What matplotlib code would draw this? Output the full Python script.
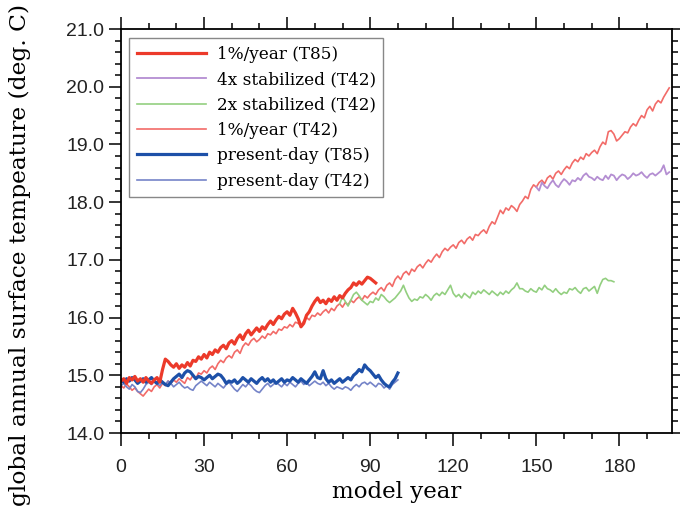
import numpy as np
import matplotlib
matplotlib.use('Agg')
import matplotlib.pyplot as plt
from matplotlib.ticker import MultipleLocator

# global annual surface temperature, one value per model year
t42_1pct_years = np.arange(0, 199)
t42_1pct = [
    14.82, 14.78, 14.85, 14.80, 14.74, 14.78, 14.72, 14.68, 14.64, 14.70,
    14.76, 14.72, 14.80, 14.84, 14.78, 14.86, 14.82, 14.90, 14.86, 14.92,
    14.88, 14.94, 14.90, 14.86, 14.96, 14.92, 15.00, 14.94, 15.04, 15.02,
    15.08, 15.04, 15.12, 15.16, 15.10, 15.20, 15.26, 15.22, 15.30, 15.34,
    15.30, 15.40, 15.44, 15.38, 15.50, 15.56, 15.52, 15.60, 15.64, 15.58,
    15.62, 15.68, 15.64, 15.72, 15.70, 15.76, 15.72, 15.80, 15.78, 15.84,
    15.82, 15.88, 15.84, 15.92, 15.90, 15.86, 15.94, 16.00, 15.96, 16.04,
    16.02, 16.08, 16.04, 16.10, 16.14, 16.08, 16.16, 16.12, 16.20, 16.24,
    16.18, 16.26, 16.22, 16.30, 16.26, 16.32, 16.36, 16.30, 16.38, 16.34,
    16.40, 16.44, 16.40, 16.48, 16.52, 16.46, 16.56, 16.60, 16.54, 16.66,
    16.72, 16.66, 16.76, 16.80, 16.74, 16.84, 16.80, 16.88, 16.92, 16.86,
    16.94, 17.00, 16.96, 17.04, 17.10, 17.04, 17.14, 17.20, 17.16, 17.22,
    17.26, 17.20, 17.30, 17.34, 17.28, 17.36, 17.40, 17.34, 17.44, 17.42,
    17.48, 17.52, 17.46, 17.58, 17.66, 17.62, 17.74, 17.86, 17.80, 17.90,
    17.86, 17.94, 17.90, 17.84, 17.96, 18.02, 18.10, 18.06, 18.22, 18.30,
    18.26, 18.34, 18.38, 18.32, 18.42, 18.46, 18.40, 18.50, 18.54, 18.48,
    18.56, 18.62, 18.58, 18.68, 18.74, 18.70, 18.78, 18.74, 18.84, 18.80,
    18.86, 18.90, 18.84, 18.96, 19.04, 19.00, 19.22, 19.24, 19.18, 19.06,
    19.10, 19.16, 19.22, 19.20, 19.30, 19.36, 19.32, 19.42, 19.50, 19.46,
    19.60, 19.66, 19.58, 19.70, 19.76, 19.72, 19.82, 19.90, 19.98,
]

t85_1pct_years = np.arange(0, 93)
t85_1pct = [
    14.90, 14.94, 14.86, 14.96, 14.92, 14.98, 14.90, 14.94, 14.88, 14.96,
    14.90, 14.86, 14.92, 14.96, 14.88, 15.10, 15.28, 15.24, 15.18, 15.14,
    15.20, 15.12, 15.18, 15.14, 15.22, 15.16, 15.26, 15.24, 15.32, 15.28,
    15.36, 15.30, 15.40, 15.36, 15.44, 15.40, 15.48, 15.52, 15.46, 15.56,
    15.60, 15.54, 15.64, 15.70, 15.62, 15.72, 15.78, 15.70, 15.76, 15.82,
    15.76, 15.84, 15.80, 15.88, 15.94, 15.88, 15.96, 16.02, 15.98, 16.06,
    16.10, 16.04, 16.16, 16.08, 15.98, 15.84, 15.90, 16.04, 16.10, 16.20,
    16.28, 16.34, 16.26, 16.30, 16.24, 16.32, 16.28, 16.36, 16.30, 16.38,
    16.34, 16.42, 16.48, 16.52, 16.60, 16.56, 16.62, 16.58, 16.64, 16.70,
    16.68, 16.64, 16.60,
]

stab2x_years = np.arange(79, 179)
stab2x = [
    16.24, 16.36, 16.28, 16.20, 16.30, 16.40, 16.44, 16.38, 16.30, 16.26,
    16.22, 16.28, 16.26, 16.34, 16.30, 16.40, 16.36, 16.30, 16.26, 16.30,
    16.34, 16.40, 16.46, 16.56, 16.44, 16.34, 16.28, 16.32, 16.30, 16.36,
    16.34, 16.40, 16.36, 16.30, 16.38, 16.42, 16.38, 16.44, 16.40, 16.48,
    16.56, 16.42, 16.36, 16.40, 16.34, 16.42, 16.38, 16.34, 16.44, 16.40,
    16.46, 16.42, 16.48, 16.44, 16.40, 16.46, 16.42, 16.38, 16.44, 16.40,
    16.46, 16.42, 16.48, 16.52, 16.60, 16.50, 16.50, 16.46, 16.44, 16.50,
    16.46, 16.44, 16.52, 16.48, 16.56, 16.50, 16.48, 16.44, 16.50, 16.44,
    16.40, 16.44, 16.42, 16.50, 16.48, 16.52, 16.46, 16.42, 16.50, 16.52,
    16.46, 16.50, 16.54, 16.42, 16.56, 16.66, 16.68, 16.64, 16.64, 16.62,
]

stab4x_years = np.arange(150, 199)
stab4x = [
    18.26, 18.20, 18.34, 18.28, 18.24, 18.32, 18.38, 18.30, 18.26, 18.34,
    18.40, 18.36, 18.30, 18.38, 18.36, 18.42, 18.38, 18.46, 18.50, 18.44,
    18.42, 18.38, 18.44, 18.40, 18.38, 18.46, 18.40, 18.48, 18.46, 18.38,
    18.44, 18.48, 18.46, 18.40, 18.44, 18.50, 18.46, 18.48, 18.52, 18.46,
    18.42, 18.48, 18.50, 18.46, 18.50, 18.54, 18.64, 18.48, 18.52,
]

present_years = np.arange(0, 101)
present_t85 = [
    14.92, 14.88, 14.94, 14.90, 14.96, 14.92, 14.86, 14.90, 14.94, 14.88,
    14.92, 14.96, 14.90, 14.86, 14.92, 14.88, 14.84, 14.82, 14.88, 14.94,
    14.98, 15.02, 14.96, 15.04, 15.08, 15.06, 15.00, 14.94, 14.98, 14.96,
    14.92, 14.96, 15.00, 14.94, 14.98, 15.02, 15.00, 14.94, 14.86, 14.90,
    14.88, 14.92, 14.86, 14.90, 14.96, 14.92, 14.88, 14.94, 14.90, 14.86,
    14.92, 14.96, 14.90, 14.94, 14.88, 14.92, 14.86, 14.90, 14.94, 14.88,
    14.92, 14.90, 14.96, 14.92, 14.88, 14.94, 14.90, 14.86, 14.92, 14.98,
    15.06, 14.96, 14.94, 15.08, 14.94, 14.88, 14.92, 14.86, 14.90, 14.94,
    14.88, 14.92, 14.96, 14.92, 15.00, 15.04, 15.10, 15.06, 15.18, 15.12,
    15.08, 15.02, 14.96, 15.00, 14.92, 14.86, 14.82, 14.80, 14.88, 14.94,
    15.04,
]
present_t42 = [
    14.82, 14.86, 14.80, 14.76, 14.84, 14.80, 14.72, 14.70, 14.76, 14.84,
    14.88, 14.84, 14.90, 14.86, 14.82, 14.88, 14.84, 14.90, 14.86, 14.80,
    14.84, 14.88, 14.82, 14.78, 14.80, 14.76, 14.74, 14.82, 14.86, 14.90,
    14.86, 14.82, 14.88, 14.84, 14.80, 14.86, 14.82, 14.78, 14.84, 14.88,
    14.82, 14.76, 14.72, 14.78, 14.84, 14.80, 14.86, 14.82, 14.76, 14.72,
    14.70, 14.76, 14.82, 14.86, 14.80, 14.84, 14.88, 14.84, 14.80, 14.86,
    14.82, 14.88, 14.84, 14.80, 14.86, 14.90, 14.84, 14.88, 14.82, 14.86,
    14.90, 14.86, 14.84, 14.88, 14.82, 14.86, 14.80, 14.76, 14.80, 14.78,
    14.76, 14.80, 14.78, 14.74, 14.80, 14.84, 14.80, 14.86, 14.88, 14.84,
    14.88, 14.84, 14.80, 14.86, 14.84, 14.78, 14.82, 14.76, 14.84, 14.88,
    14.92,
]

serif = 'DejaVu Serif'
sans = 'Liberation Sans'

fig = plt.figure(figsize=(6.8, 5.15), dpi=100)
ax = fig.add_axes([121/680, 1 - 433/515, 551/680, 404/515])

l_t42, = ax.plot(t42_1pct_years, t42_1pct, c='#f26b68', lw=1.2)
l_2x, = ax.plot(stab2x_years, stab2x, c='#93cf80', lw=1.2)
l_4x, = ax.plot(stab4x_years, stab4x, c='#b48ed2', lw=1.3)
l_p42, = ax.plot(present_years, present_t42, c='#7584c8', lw=1.2)
l_p85, = ax.plot(present_years, present_t85, c='#1d50a8', lw=2.3)
l_t85, = ax.plot(t85_1pct_years, t85_1pct, c='#ec3a2a', lw=2.3)

ax.set_xlim(0, 199)
ax.set_ylim(14, 21)
ax.xaxis.set_major_locator(MultipleLocator(30))
ax.xaxis.set_minor_locator(MultipleLocator(10))
ax.yaxis.set_major_locator(MultipleLocator(1))
ax.yaxis.set_minor_locator(MultipleLocator(0.2))
ax.yaxis.set_major_formatter(matplotlib.ticker.FormatStrFormatter('%.1f'))
ax.tick_params(which='both', direction='out', top=True, right=True,
               labeltop=False, labelright=False, width=1.1)
ax.tick_params(which='major', length=9)
ax.tick_params(which='minor', length=4)
ax.tick_params(axis='x', pad=10)
ax.tick_params(axis='y', pad=3)
for lab in ax.get_xticklabels() + ax.get_yticklabels():
    lab.set_family(sans)
    lab.set_fontsize(14)
    lab.set_color('#222222')
for sp in ax.spines.values():
    sp.set_linewidth(1.3)

ax.set_xlabel('model year', family=serif, fontsize=16.5, labelpad=3)
ax.set_ylabel('global annual surface tempeature (deg. C)', family=serif,
              fontsize=16.8)
ax.yaxis.set_label_coords(-0.163, 0.44)

leg = ax.legend([l_t85, l_4x, l_2x, l_t42, l_p85, l_p42],
                ['1%/year (T85)', '4x stabilized (T42)', '2x stabilized (T42)',
                 '1%/year (T42)', 'present-day (T85)', 'present-day (T42)'],
                loc='upper left', bbox_to_anchor=(0.015, 0.978),
                prop={'family': serif, 'size': 12.2}, handlelength=4.1,
                handletextpad=0.6, labelspacing=0.5, fancybox=False,
                framealpha=1, edgecolor='#888888', borderpad=0.45,
                borderaxespad=0)
leg.get_frame().set_linewidth(1.0)

plt.savefig('out.png', dpi=100)
